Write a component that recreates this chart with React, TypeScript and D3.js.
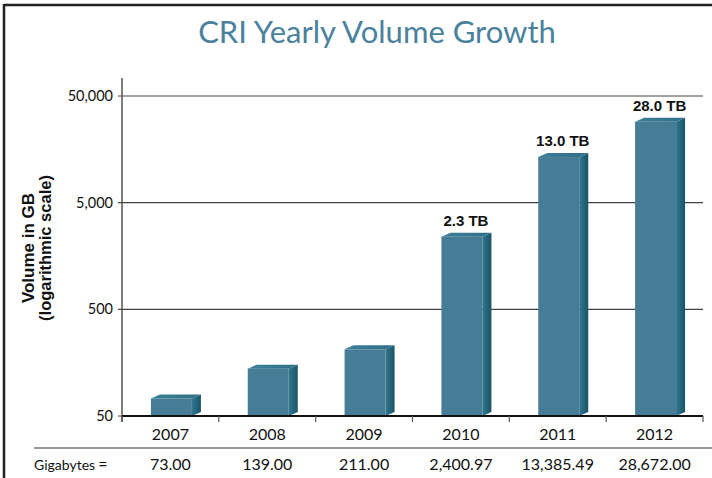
import React from "react";
import * as d3 from "d3";

const years = ["2007", "2008", "2009", "2010", "2011", "2012"];
const gigabytes = [73, 139, 211, 2400.97, 13385.49, 28672];
const valueLabels = ["73.00", "139.00", "211.00", "2,400.97", "13,385.49", "28,672.00"];
const barLabels = ["", "", "", "2.3 TB", "13.0 TB", "28.0 TB"];
const yTicks = [50, 500, 5000, 50000];

const W = 712;
const H = 478;

export default function App() {
  const y = d3.scaleLog().domain([50, 50000]).range([416, 96]);
  const x = d3.scaleBand<string>().domain(years).range([122, 703]).padding(0);
  const bw = x.bandwidth();
  const frontW = 41;
  const dx = 9;
  const dy = 4;
  const fmt = d3.format(",");
  const sans = "'Liberation Sans', Arial, sans-serif";
  const lato = "Lato, 'Open Sans', sans-serif";

  return (
    <svg
      width={W}
      height={H}
      style={{ position: "absolute", left: 0, top: 0, background: "#fff" }}
    >
      <defs>
        <linearGradient id="side" x1="0" x2="1" y1="0" y2="0">
          <stop offset="0" stopColor="#2f7890" />
          <stop offset="1" stopColor="#1b5367" />
        </linearGradient>
        <linearGradient id="top" x1="0" x2="1" y1="0" y2="0">
          <stop offset="0" stopColor="#3d7f99" />
          <stop offset="1" stopColor="#2f6f88" />
        </linearGradient>
      </defs>
      {/* frame */}
      <line x1={4} x2={712} y1={5} y2={5} stroke="#222" strokeWidth={2.5} />
      <line x1={4} x2={4} y1={4} y2={478} stroke="#222" strokeWidth={2.5} />

      <text
        x={377}
        y={43}
        textAnchor="middle"
        fontFamily={lato}
        fontSize={31}
        fill="#4a819d"
      >
        CRI Yearly Volume Growth
      </text>

      {/* gridlines */}
      {yTicks.map((t) => (
        <g key={t}>
          <line x1={118} x2={703} y1={y(t)} y2={y(t)} stroke="#444" strokeWidth={1.2} />
          <text
            x={113}
            y={y(t)}
            dy="0.35em"
            textAnchor="end"
            fontFamily={lato}
            fontSize={14.5}
            fill="#111"
          >
            {fmt(t)}
          </text>
        </g>
      ))}

      {/* y axis */}
      <line x1={122} x2={122} y1={78} y2={422} stroke="#555" strokeWidth={1.5} />

      {/* bars */}
      {years.map((yr, i) => {
        const cx = (x(yr) as number) + bw / 2;
        const x0 = cx - frontW / 2 + 1;
        const x1 = x0 + frontW;
        const yt = y(gigabytes[i]);
        const yb = y(50);
        return (
          <g key={yr}>
            <polygon
              points={`${x1},${yt} ${x1 + dx},${yt - dy} ${x1 + dx},${yb - dy} ${x1},${yb}`}
              fill="url(#side)"
            />
            <polygon
              points={`${x0},${yt} ${x0 + dx},${yt - dy} ${x1 + dx},${yt - dy} ${x1},${yt}`}
              fill="url(#top)"
            />
            <rect x={x0} y={yt} width={frontW} height={yb - yt} fill="#477c97" />
            {barLabels[i] && (
              <text
                x={cx + 5}
                y={yt - 11}
                textAnchor="middle"
                fontFamily={sans}
                fontWeight="bold"
                fontSize={15}
                fill="#111"
              >
                {barLabels[i]}
              </text>
            )}
          </g>
        );
      })}

      {/* x axis */}
      <line x1={122} x2={703} y1={416} y2={416} stroke="#111" strokeWidth={2} />
      {years.concat(["end"]).map((yr, i) => {
        const xx = i < years.length ? (x(yr) as number) : 703;
        return <line key={yr} x1={xx} x2={xx} y1={416} y2={422} stroke="#555" strokeWidth={1.2} />;
      })}
      {years.map((yr) => (
        <text
          key={yr}
          x={(x(yr) as number) + bw / 2}
          y={440}
          textAnchor="middle"
          fontFamily={lato}
          fontSize={16}
          fill="#111"
        >
          {yr}
        </text>
      ))}

      {/* data table */}
      <line x1={34} x2={712} y1={448} y2={448} stroke="#333" strokeWidth={1.2} />
      <text x={34} y={470} fontFamily={lato} fontSize={14} fill="#111">
        Gigabytes
      </text>
      <text x={103} y={470} textAnchor="middle" fontFamily={lato} fontSize={16} fill="#111">
        =
      </text>
      {years.map((yr, i) => (
        <text
          key={yr}
          x={(x(yr) as number) + bw / 2}
          y={470}
          textAnchor="middle"
          fontFamily={lato}
          fontSize={16}
          fill="#111"
        >
          {valueLabels[i]}
        </text>
      ))}

      {/* y title */}
      <g transform="translate(34,248) rotate(-90)">
        <text x={0} y={0} textAnchor="middle" fontFamily={sans} fontWeight="bold" fontSize={17} fill="#111">
          Volume in GB
        </text>
        <text x={0} y={17} textAnchor="middle" fontFamily={sans} fontWeight="bold" fontSize={16.5} fill="#111">
          (logarithmic scale)
        </text>
      </g>
    </svg>
  );
}
